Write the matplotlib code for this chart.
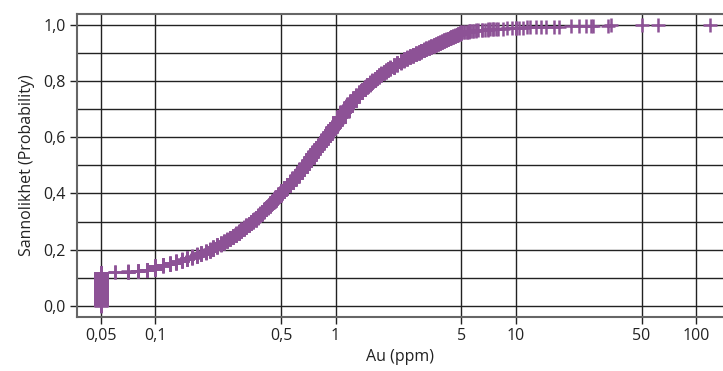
import numpy as np
import matplotlib.pyplot as plt
from matplotlib.ticker import NullLocator

plt.rcParams['font.family'] = ['Open Sans', 'DejaVu Sans']

# distinct Au values (ppm) and how many samples have each value
au_low = [0.05, 0.06, 0.07, 0.08, 0.09, 0.10]
n_low = [212, 2, 5, 5, 7, 23]

au_mid = [0.11, 0.12, 0.13, 0.14, 0.15, 0.16, 0.17, 0.18, 0.19, 0.20,
          0.21, 0.22, 0.23, 0.24, 0.25, 0.26, 0.27, 0.28, 0.29, 0.30,
          0.31, 0.32, 0.33, 0.34, 0.35, 0.36, 0.37, 0.38, 0.39, 0.40,
          0.41, 0.42, 0.43, 0.44, 0.45, 0.46, 0.47, 0.48, 0.49, 0.50]
n_mid = [9, 9, 12, 11, 10, 10, 12, 11, 10, 11,
         15, 15, 11, 11, 12, 12, 13, 13, 13, 14,
         12, 13, 11, 11, 12, 14, 14, 14, 12, 13,
         11, 11, 11, 11, 11, 12, 12, 12, 12, 12]

au_upper = [0.52, 0.54, 0.56, 0.58, 0.60, 0.62, 0.64, 0.66, 0.68, 0.70,
            0.72, 0.74, 0.76, 0.78, 0.80, 0.82, 0.84, 0.86, 0.88, 0.90,
            0.92, 0.94, 0.96, 0.98, 1.00]
n_upper = [20, 21, 20, 21, 20, 19, 19, 19, 20, 20,
           20, 20, 16, 16, 16, 15, 16, 15, 16, 15,
           15, 15, 15, 15, 15]

au_one = [1.05, 1.10, 1.15, 1.20, 1.25, 1.30, 1.35, 1.40, 1.45, 1.50,
          1.55, 1.60, 1.65, 1.70, 1.75, 1.80, 1.85, 1.90, 1.95, 2.00]
n_one = [38, 34, 31, 27, 24, 21, 19, 17, 16, 15,
         14, 13, 12, 11, 11, 11, 10, 10, 9, 9]

au_high = [2.1, 2.2, 2.3, 2.4, 2.5, 2.6, 2.7, 2.8, 2.9, 3.0,
           3.1, 3.2, 3.3, 3.4, 3.5, 3.6, 3.7, 3.8, 3.9, 4.0,
           4.1, 4.2, 4.3, 4.4, 4.5, 4.6, 4.7, 4.8, 4.9, 5.0]
n_high = [16, 14, 13, 11, 10, 9, 9, 9, 8, 9,
          7, 7, 7, 7, 7, 6, 6, 6, 6, 7,
          5, 5, 5, 5, 5, 5, 5, 5, 5, 5]

au_top = [5.2, 5.4, 5.5, 5.6, 5.8, 6.0, 6.2, 6.5, 6.8, 7.0,
          7.2, 7.5, 7.8, 8.0, 8.5, 9.0, 9.5, 10.0]
n_top = [2, 2, 2, 2, 2, 2, 1, 2, 1, 2,
         1, 2, 1, 1, 1, 1, 1, 2]

au_tail = [10.5, 11.0, 11.5, 12.0, 13.0, 13.9, 14.8, 16.4, 17.5, 20.3,
           22.6, 24.6, 26.2, 26.8, 32.5, 33.9, 50.3, 61.4, 120.0]
n_tail = [1] * len(au_tail)

x_ticks = [0.05, 0.1, 0.5, 1, 5, 10, 50, 100]
x_labels = ['0,05', '0,1', '0,5', '1', '5', '10', '50', '100']
y_ticks = [0.0, 0.2, 0.4, 0.6, 0.8, 1.0]
y_labels = ['0,0', '0,2', '0,4', '0,6', '0,8', '1,0']
y_minor = [0.1, 0.3, 0.5, 0.7, 0.9]

# expand to samples and build the empirical cdf
values = np.concatenate([au_low, au_mid, au_upper, au_one, au_high, au_top, au_tail])
counts = np.concatenate([n_low, n_mid, n_upper, n_one, n_high, n_top, n_tail]).astype(int)
samples = np.sort(np.repeat(values, counts))
prob = np.arange(1, len(samples) + 1) / len(samples)

purple = '#8d5296'
grid_c = '#222222'
spine_c = '#666666'
text_c = '#222222'

fig = plt.figure(figsize=(7.23, 3.71), dpi=100)
ax = fig.add_axes([77 / 723, 1 - 316.7 / 371, 646 / 723, 302.7 / 371])

ax.plot(samples, prob, linestyle='none', marker='+', markersize=10.5,
        markeredgewidth=1.8, color=purple, zorder=3)

ax.set_xscale('log')
ax.set_xlim(0.0367, 141.7)
ax.set_ylim(-0.039, 1.039)

ax.set_xticks(x_ticks)
ax.set_xticklabels(x_labels)
ax.xaxis.set_minor_locator(NullLocator())
ax.set_yticks(y_ticks)
ax.set_yticklabels(y_labels)
ax.set_yticks(y_minor, minor=True)

ax.grid(True, which='major', color=grid_c, linewidth=1.0, zorder=1)
ax.grid(True, which='minor', axis='y', color=grid_c, linewidth=1.0, zorder=1)
ax.set_axisbelow(True)

ax.tick_params(axis='both', which='major', direction='out', length=5,
               width=1.0, color=grid_c, labelsize=11.5, labelcolor=text_c, pad=3)
ax.tick_params(axis='y', which='minor', length=0)

for side in ['left', 'bottom', 'top']:
    ax.spines[side].set_color(spine_c)
    ax.spines[side].set_linewidth(1.5)
ax.spines['right'].set_visible(False)

ax.set_xlabel('Au (ppm)', fontsize=11.5, color=text_c, labelpad=4)
ax.set_ylabel('Sannolikhet (Probability)', fontsize=11.5, color=text_c, labelpad=6)

fig.savefig('out.png', dpi=100)
